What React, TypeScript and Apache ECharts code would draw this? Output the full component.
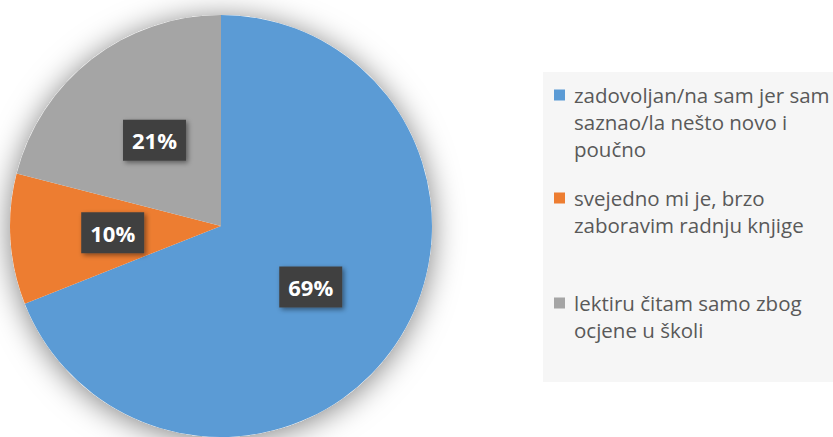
import React, { useEffect, useRef } from "react";
import * as echarts from "echarts";

const categories = [
  "zadovoljan/na sam jer sam saznao/la nešto novo i poučno",
  "svejedno mi je, brzo zaboravim radnju knjige",
  "lektiru čitam samo zbog ocjene u školi",
];
const legendLines = [
  ["zadovoljan/na sam jer sam", "saznao/la nešto novo i", "poučno"],
  ["svejedno mi je, brzo", "zaboravim radnju knjige"],
  ["lektiru čitam samo zbog", "ocjene u školi"],
];
const values = [69, 10, 21];
const colors = ["#5b9bd5", "#ed7d31", "#a5a5a5"];
const legendTops = [95, 198, 303]; // centre of first legend line

const FONT = "'Open Sans', 'Noto Sans', sans-serif";
const LH = 27;

export default function App() {
  const ref = useRef<HTMLDivElement>(null);
  useEffect(() => {
    if (!ref.current) return;
    const chart = echarts.init(ref.current, null, { renderer: "svg" });
    const legends = categories.map((name, i) => {
      const lines = legendLines[i];
      const pad = Array(lines.length - 1).fill("").join("\n");
      const n = lines.length;
      return {
        data: [name],
        orient: "vertical",
        left: 554,
        top: legendTops[i] - LH / 2 - (n - 1) * LH,
        padding: 0,
        icon: "rect",
        itemWidth: 11,
        itemHeight: 11,
        selectedMode: false,
        formatter: () => (n > 1 ? pad + "\n" : "") + lines.join("\n"),
        textStyle: {
          fontFamily: FONT,
          fontSize: 20.5,
          color: "#595959",
          lineHeight: LH,
          padding: [0, 0, 0, 4],
        },
      };
    });
    chart.setOption({
      animation: false,
      color: colors,
      graphic: [
        {
          type: "rect",
          left: 543,
          top: 72,
          shape: { width: 300, height: 310 },
          style: { fill: "#f6f6f6" },
          z: -10,
        },
      ],
      legend: legends,
      series: [
        {
          type: "pie",
          center: [221, 226],
          radius: 211,
          silent: true,
          z: 1,
          label: { show: false },
          labelLine: { show: false },
          itemStyle: {
            color: "#ffffff",
            shadowBlur: 30,
            shadowColor: "rgba(0,0,0,0.5)",
            shadowOffsetY: 3,
          },
          data: [{ name: "_shadow", value: 1 }],
        },
        {
          type: "pie",
          center: [221, 226],
          radius: 211,
          startAngle: 90,
          clockwise: true,
          z: 2,
          emphasis: { disabled: true },
          label: {
            show: true,
            position: "inside",
            formatter: "{d}%",
            fontFamily: FONT,
            fontWeight: "bold",
            fontSize: 22,
            lineHeight: 25,
            color: "#ffffff",
            backgroundColor: "#404040",
            padding: [8, 9],
            shadowBlur: 5,
            shadowColor: "rgba(0,0,0,0.45)",
            shadowOffsetX: 2,
            shadowOffsetY: 2,
          },
          labelLine: { show: false },
          data: categories.map((name, i) => ({ name, value: values[i] })),
        },
      ],
    });
    return () => chart.dispose();
  }, []);
  return (
    <div
      ref={ref}
      style={{ position: "fixed", left: 0, top: 0, width: 833, height: 437, background: "#fff" }}
    />
  );
}
